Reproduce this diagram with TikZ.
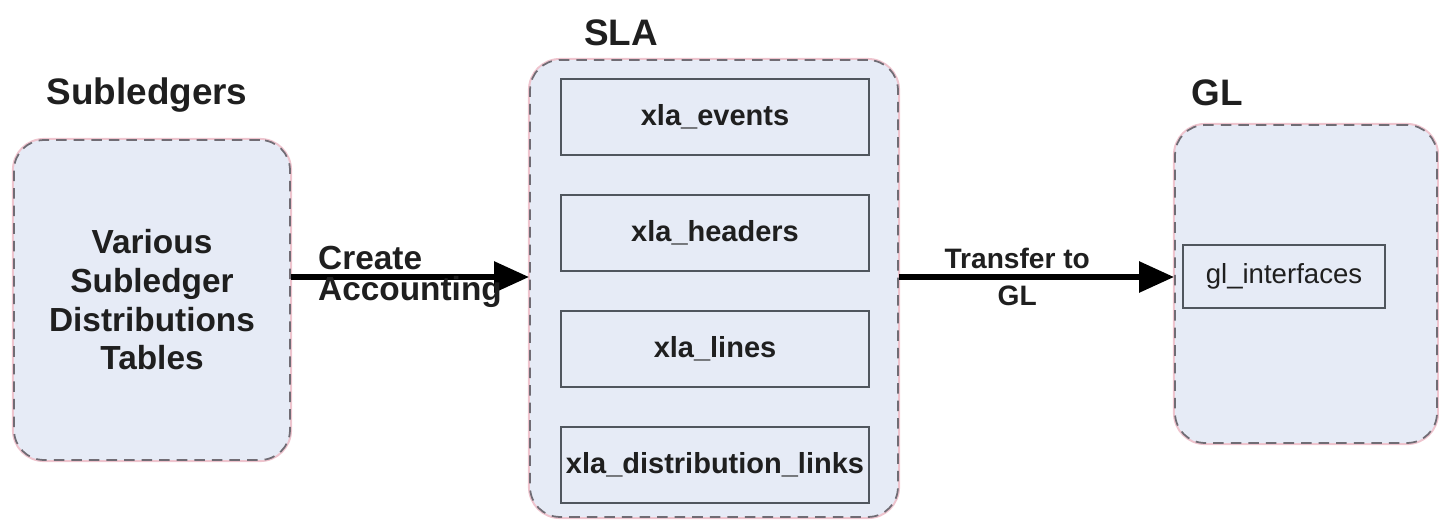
\documentclass[tikz,border=0pt]{standalone}
\usepackage{fontspec}
\setmainfont{Liberation Sans}
\usepackage{xcolor}
\usetikzlibrary{positioning,arrows.meta}
\definecolor{boxfill}{RGB}{230,235,246}
\definecolor{dashgray}{RGB}{112,108,116}
\definecolor{dashpink}{RGB}{238,196,206}
\definecolor{tabline}{RGB}{80,86,94}
\tikzset{
  layer/.style={draw=dashgray,line width=1pt,dash pattern=on 6pt off 4pt,rounded corners=0.6cm,
    fill=boxfill,preaction={draw=dashpink,line width=2.4pt,solid},inner sep=0pt},
  table/.style={draw=tabline,line width=1.1pt,fill=boxfill,minimum width=6.16cm,minimum height=1.52cm,
    inner sep=0pt,font=\fontsize{16.5}{19}\selectfont\bfseries},
  title/.style={font=\fontsize{21}{25}\selectfont\bfseries},
  flow/.style={line width=3.6pt,-{Triangle[length=20pt,width=17pt]}}
}
\begin{document}
\begin{tikzpicture}[x=0.02cm,y=-0.02cm,node distance=0.76cm,text=black!88]
  \useasboundingbox (0,0) rectangle (1439,521);
  % containers
  \node(sub)[layer,minimum width=5.52cm,minimum height=6.4cm,align=center,
    font=\fontsize{19}{22}\selectfont\bfseries] at (152,300)
    {Various\\Subledger\\Distributions\\Tables};
  \node(sla)[layer,minimum width=7.36cm,minimum height=9.14cm] at (714,288.5) {};
  \node(gl)[layer,minimum width=5.24cm,minimum height=6.36cm] at (1306,284) {};
  % titles
  \node(subtitle)[title] at (147,95) {Subledgers};
  \node(slatitle)[title] at (621,33) {SLA};
  \node(gltitle)[title] at (1217,93) {GL};
  % SLA tables
  \node(events)[table] at (715,117) {xla\_events};
  \node(headers)[table,below=of events] {xla\_headers};
  \node(lines)[table,below=of headers] {xla\_lines};
  \node(links)[table,below=of lines] {xla\_distribution\_links};
  % GL table
  \node(iface)[table,minimum width=4.04cm,minimum height=1.26cm,
    font=\fontsize{15.7}{18}\selectfont] at (1284,276.5) {gl\_interfaces};
  % flows
  \coordinate(lvl) at (0,277);
  \draw[flow] (sub.east |- lvl) -- (sla.west |- lvl)
    node[midway,align=left,font=\fontsize{19}{18}\selectfont\bfseries] {Create\\Accounting};
  \draw[flow] (sla.east |- lvl) -- (gl.west |- lvl)
    node[pos=0.43,align=center,font=\fontsize{16}{21.5}\selectfont\bfseries] {Transfer to\\GL};
\end{tikzpicture}
\end{document}
